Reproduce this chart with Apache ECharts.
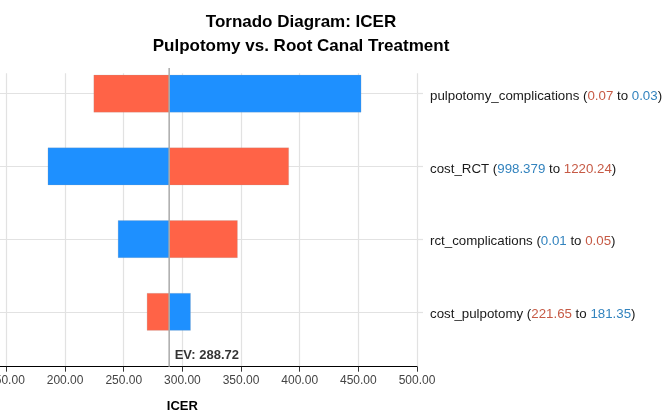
<!DOCTYPE html>
<html>
<head>
<meta charset="utf-8">
<script src="https://cdn.jsdelivr.net/npm/echarts@6/dist/echarts.min.js"></script>
<style>
html,body{margin:0;padding:0;background:#fff;}
#chart{width:669px;height:419px;}
</style>
</head>
<body>
<div id="chart"></div>
<script>
// ---- data ----
const categories = ['pulpotomy_complications', 'cost_RCT', 'rct_complications', 'cost_pulpotomy'];
const paramHigh = [0.07, 1220.24, 0.05, 221.65];     // red
const paramLow = [0.03, 998.379, 0.01, 181.35];      // blue
const icerAtHigh = [224.5, 390.6, 346.9, 269.9];     // red bar end
const icerAtLow = [452.3, 185.4, 245.2, 306.9];      // blue bar end
const ev = 288.72;
const xTicksMin = 100, xTicksMax = 500, xTickStep = 50;

const RED = '#FF6347', BLUE = '#1E90FF';
const RED_TXT = '#C65A45', BLUE_TXT = '#3283BE';
const FONT = 'Liberation Sans, Arial, sans-serif';

const barData = [];
categories.forEach((c, i) => {
  barData.push([i, icerAtHigh[i], 0]);
  barData.push([i, icerAtLow[i], 1]);
});

function catLabel(name, idx) {
  const i = categories.indexOf(name);
  const items = [
    {v: paramHigh[i], icer: icerAtHigh[i], s: 'r'},
    {v: paramLow[i], icer: icerAtLow[i], s: 'b'}
  ].sort((a, b) => a.icer - b.icer);
  return name + ' ({' + items[0].s + '|' + items[0].v + '} to {' + items[1].s + '|' + items[1].v + '})';
}

const gridL = -52.2, gridR = 252;
const chart = echarts.init(document.getElementById('chart'), null, {renderer: 'canvas'});
chart.setOption({
  backgroundColor: '#fff',
  animation: false,
  title: {
    text: 'Tornado Diagram: ICER\nPulpotomy vs. Root Canal Treatment',
    left: 296, top: 5.5, textAlign: 'center',
    textStyle: {fontFamily: FONT, fontSize: 17, fontWeight: 'bold', color: '#000', lineHeight: 24}
  },
  grid: [
    {left: gridL, right: gridR, top: 73.3, bottom: 52.3, outerBoundsMode: 'none', containLabel: false},
    {left: gridL, right: gridR, top: 57.3, bottom: 70.8, outerBoundsMode: 'none', containLabel: false},
    {left: gridL, right: gridR, top: 68, bottom: 52.3, outerBoundsMode: 'none', containLabel: false}
  ],
  xAxis: [
    {
      gridIndex: 0, type: 'value', min: xTicksMin, max: xTicksMax, interval: xTickStep,
      name: 'ICER', nameLocation: 'middle', nameGap: 33,
      nameTextStyle: {fontFamily: FONT, fontSize: 13, fontWeight: 'bold', color: '#000'},
      axisLine: {show: true, lineStyle: {color: '#000', width: 1}},
      axisTick: {show: true, length: 5, lineStyle: {color: '#333'}},
      axisLabel: {fontFamily: FONT, fontSize: 12, color: '#444', margin: 8,
        formatter: v => v.toFixed(2)},
      splitLine: {show: true, lineStyle: {color: '#E2E2E2', width: 1.2}}
    },
    {gridIndex: 1, type: 'value', min: xTicksMin, max: xTicksMax, show: false, splitLine: {show: false}},
    {gridIndex: 2, type: 'value', min: xTicksMin, max: xTicksMax, show: false, splitLine: {show: false}}
  ],
  yAxis: [
    {gridIndex: 0, type: 'value', min: 0, max: 1, show: false},
    {
      gridIndex: 1, type: 'category', data: categories, inverse: true, position: 'right',
      axisLine: {show: false},
      axisTick: {show: true, alignWithLabel: true, length: 6, lineStyle: {color: '#E2E2E2', width: 1.2}},
      splitLine: {show: false},
      axisLabel: {
        margin: 13, fontFamily: FONT, fontSize: 13.3, color: '#1a1a1a',
        padding: [5, 0, 0, 0],
        formatter: catLabel,
        rich: {
          r: {color: RED_TXT, fontFamily: FONT, fontSize: 13.3},
          b: {color: BLUE_TXT, fontFamily: FONT, fontSize: 13.3}
        }
      }
    },
    {gridIndex: 2, type: 'value', min: 0, max: 1, show: false}
  ],
  series: [
    {
      type: 'custom', xAxisIndex: 1, yAxisIndex: 1, z: 2,
      encode: {x: 1, y: 0},
      data: barData,
      renderItem: function (params, api) {
        const cat = api.value(0), v = api.value(1), kind = api.value(2);
        const p0 = api.coord([ev, cat]);
        const p1 = api.coord([v, cat]);
        const h = api.size([0, 1])[1] * 0.51;
        return {
          type: 'rect',
          shape: {x: Math.min(p0[0], p1[0]), y: p0[1] - h / 2, width: Math.abs(p1[0] - p0[0]), height: h},
          style: {fill: kind === 0 ? RED : BLUE, stroke: 'rgba(160,160,160,0.35)', lineWidth: 0.6}
        };
      },
      markLine: {
        silent: true, symbol: 'none', z: 1,
        label: {show: false},
        lineStyle: {color: '#E2E2E2', width: 1.2, type: 'solid'},
        data: categories.map((c, i) => ({yAxis: i}))
      }
    },
    {
      type: 'line', xAxisIndex: 2, yAxisIndex: 2, z: 5,
      data: [[ev, 0], [ev, 1]],
      showSymbol: false, symbol: 'none',
      lineStyle: {color: '#AAAAAA', width: 1.5}
    },
    {
      type: 'scatter', xAxisIndex: 2, yAxisIndex: 2, z: 6,
      data: [[ev, 0]], symbolSize: 1,
      itemStyle: {color: 'rgba(0,0,0,0)'},
      label: {
        show: true, position: [6, -11], align: 'left', verticalAlign: 'middle',
        formatter: 'EV: ' + ev.toFixed(2),
        fontFamily: FONT, fontSize: 13, fontWeight: 'bold', color: '#000'
      }
    }
  ]
});
</script>
</body>
</html>
